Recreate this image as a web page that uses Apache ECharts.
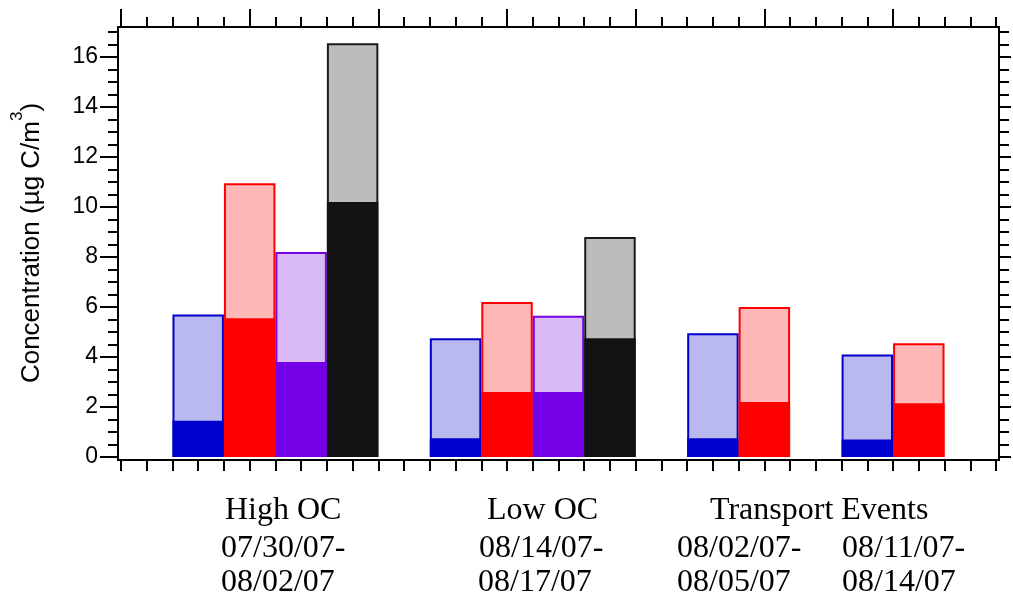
<!DOCTYPE html>
<html>
<head>
<meta charset="utf-8">
<script src="https://cdn.jsdelivr.net/npm/echarts@6/dist/echarts.min.js"></script>
<style>
  html, body { margin: 0; padding: 0; background: #ffffff; }
  #chart { width: 1013px; height: 602px; }
</style>
</head>
<body>
<div id="chart"></div>
<script>
// Bar slots along the x axis; empty slots separate the groups
const slotColors = ['', 'blue', 'red', 'purple', 'black', '', 'blue', 'red', 'purple', 'black', '', 'blue', 'red', '', 'blue', 'red', ''];
// Full bar height (light part) and lower part (dark fill), µg C/m3
const totalConc = [null, 5.7, 10.95, 8.2, 16.55, null, 4.75, 6.2, 5.65, 8.8, null, 4.95, 6.0, null, 4.1, 4.55, null];
const lowerConc = [null, 1.45, 5.55, 3.8, 10.2, null, 0.75, 2.6, 2.6, 4.75, null, 0.75, 2.2, null, 0.7, 2.15, null];

// Text under the axis
const groupLabels = ['High OC', 'Low OC', 'Transport Events'];
const periodLabels = [
  ['07/30/07-', '08/02/07'],
  ['08/14/07-', '08/17/07'],
  ['08/02/07-', '08/05/07'],
  ['08/11/07-', '08/14/07']
];

// Axis ticks
const yTickLabels = [0, 2, 4, 6, 8, 10, 12, 14, 16];
const yMinorTicks = [];
for (let v = 0; v <= 17; v += 0.5) yMinorTicks.push(v);
const xMinorTicks = [];
for (let v = 0; v <= 34; v += 1) xMinorTicks.push(v);
const xTopMajorTicks = [0, 5, 10, 15, 20, 25, 30];

const palette = {
  blue:   { dark: '#0000cc', light: '#b9b9ef', edge: '#0000cc' },
  red:    { dark: '#ff0000', light: '#ffb7b7', edge: '#ff0000' },
  purple: { dark: '#7300e6', light: '#d9baf6', edge: '#7a00e8' },
  black:  { dark: '#121212', light: '#bcbcbc', edge: '#1a1a1a' }
};

const slotNames = slotColors.map((c, i) => 'slot' + i);

const lightData = totalConc.map((v, i) => v == null ? '-' : {
  value: v,
  itemStyle: {
    color: palette[slotColors[i]].light,
    borderColor: palette[slotColors[i]].edge,
    borderWidth: 2
  }
});
const darkData = lowerConc.map((v, i) => v == null ? '-' : {
  value: v,
  itemStyle: { color: palette[slotColors[i]].dark, borderWidth: 0 }
});

const black = '#000000';
const lineStyle = { color: black, width: 2 };

function frameX(position, ticks, len) {
  return {
    gridIndex: 1, type: 'value', position: position,
    min: -0.117, max: 34.117,
    axisLine: { show: true, onZero: false, lineStyle: lineStyle },
    axisTick: { show: true, customValues: ticks, length: len, lineStyle: lineStyle },
    axisLabel: { show: false },
    splitLine: { show: false }
  };
}
function frameY(position, ticks, len, labels) {
  return {
    gridIndex: 1, type: 'value', position: position,
    min: -0.12, max: 17.2,
    axisLine: { show: true, onZero: false, lineStyle: lineStyle },
    axisTick: { show: true, customValues: ticks, length: len, lineStyle: lineStyle },
    axisLabel: labels ? {
      show: true, customValues: labels, margin: 20,
      color: black, fontSize: 23, fontFamily: '"Liberation Sans", Arial, sans-serif'
    } : { show: false },
    splitLine: { show: false }
  };
}

const serif = '32px "Liberation Serif", "Times New Roman", serif';
function caption(text, x, y) {
  return {
    type: 'text', x: x, y: y, silent: true,
    style: { text: text, font: serif, fill: black, align: 'left', verticalAlign: 'middle' }
  };
}

const chart = echarts.init(document.getElementById('chart'), null, { renderer: 'canvas' });
chart.setOption({
  animation: false,
  backgroundColor: '#ffffff',
  grid: [
    { left: 121, right: 17, top: 30, bottom: 145 },
    { left: 118, right: 14, top: 27, bottom: 142 }
  ],
  xAxis: [
    { gridIndex: 0, type: 'category', data: slotNames, show: false, boundaryGap: true },
    frameX('bottom', xMinorTicks, 11),
    frameX('top', xTopMajorTicks, 18),
    frameX('top', xMinorTicks, 10)
  ],
  yAxis: [
    { gridIndex: 0, type: 'value', min: 0, max: 17.08, show: false, splitLine: { show: false } },
    frameY('left', yTickLabels, 18, yTickLabels),
    frameY('left', yMinorTicks, 10, null),
    frameY('right', yTickLabels, 12, null),
    frameY('right', yMinorTicks, 10, null)
  ],
  series: [
    {
      type: 'bar', xAxisIndex: 0, yAxisIndex: 0,
      barCategoryGap: '0%', barGap: '-100%',
      data: lightData
    },
    {
      type: 'bar', xAxisIndex: 0, yAxisIndex: 0,
      barCategoryGap: '0%', barGap: '-100%',
      data: darkData
    }
  ],
  graphic: [
    {
      type: 'text', x: 32, y: 243, rotation: Math.PI / 2, silent: true,
      style: {
        text: 'Concentration (µg C/m{sup|3})',
        font: '26px "Liberation Sans", Arial, sans-serif',
        fill: black, align: 'center', verticalAlign: 'middle',
        rich: {
          sup: {
            fontSize: 17, fontFamily: '"Liberation Sans", Arial, sans-serif',
            verticalAlign: 'top', padding: [0, 0, 30, 0]
          }
        }
      }
    },
    caption(groupLabels[0], 225, 511),
    caption(periodLabels[0][0], 221, 549),
    caption(periodLabels[0][1], 221, 583),
    caption(groupLabels[1], 487, 511),
    caption(periodLabels[1][0], 479, 549),
    caption(periodLabels[1][1], 478, 583),
    caption(groupLabels[2], 710, 511),
    caption(periodLabels[2][0], 677, 549),
    caption(periodLabels[2][1], 677, 583),
    caption(periodLabels[3][0], 842, 549),
    caption(periodLabels[3][1], 842, 583)
  ]
});
</script>
</body>
</html>
